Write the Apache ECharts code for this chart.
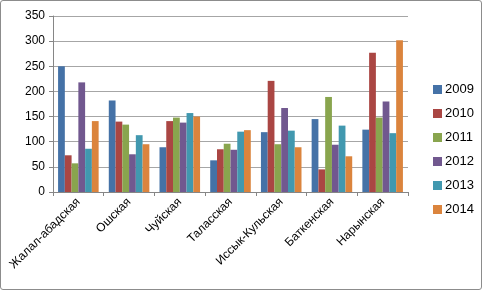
<!DOCTYPE html>
<html>
<head>
<meta charset="utf-8">
<script src="https://cdn.jsdelivr.net/npm/echarts@6/dist/echarts.min.js"></script>
<style>
  html, body { margin: 0; padding: 0; background: #fff; }
  #chart { width: 482px; height: 290px; box-sizing: border-box; border: 1px solid #8c8c8c; border-radius: 3px; }
</style>
</head>
<body>
<div id="chart"></div>
<script>
// регионы
var regions = ['Жалал-абадская', 'Ошская', 'Чуйская', 'Таласская', 'Иссык-Кульская', 'Баткенская', 'Нарынская'];
var years = ['2009', '2010', '2011', '2012', '2013', '2014'];

var v2009 = [250, 182, 89, 63, 119, 145, 124];
var v2010 = [73, 140, 141, 85, 221, 45, 277];
var v2011 = [57, 134, 148, 96, 95, 189, 148];
var v2012 = [218, 75, 138, 84, 167, 94, 180];
var v2013 = [86, 113, 157, 120, 122, 132, 117];
var v2014 = [141, 95, 150, 123, 89, 71, 302];

var colors = ['#4572A7', '#AA4643', '#89A54E', '#71588F', '#4198AF', '#DB843D'];
var allValues = [v2009, v2010, v2011, v2012, v2013, v2014];

var chart = echarts.init(document.getElementById('chart'));

var series = [];
for (var i = 0; i < years.length; ++i) {
  series.push({
    name: years[i],
    type: 'bar',
    barGap: '0%',
    barCategoryGap: '20%',
    itemStyle: { color: colors[i] },
    data: allValues[i]
  });
}

chart.setOption({
  animation: false,
  color: colors,
  textStyle: { fontFamily: 'Liberation Sans' },
  grid: { left: 52, right: 73, top: 15, bottom: 97 },
  legend: {
    orient: 'vertical',
    left: 427,
    top: 77,
    itemWidth: 9,
    itemHeight: 9,
    itemGap: 11,
    icon: 'rect',
    textStyle: { fontSize: 13, color: '#000', padding: [0, 0, 0, -2] },
    data: years
  },
  xAxis: {
    type: 'category',
    data: regions,
    axisLine: { lineStyle: { color: '#868686' } },
    axisTick: { show: true, length: 4, lineStyle: { color: '#868686' } },
    axisLabel: { rotate: 45, fontSize: 12, color: '#000', margin: 8, interval: 0 }
  },
  yAxis: {
    type: 'value',
    min: 0,
    max: 350,
    interval: 50,
    axisLine: { show: true, lineStyle: { color: '#868686' } },
    axisTick: { show: true, length: 4, lineStyle: { color: '#868686' } },
    axisLabel: { fontSize: 12, color: '#000', margin: 8 },
    splitLine: { lineStyle: { color: '#a6a6a6' } }
  },
  series: series
});
</script>
</body>
</html>
